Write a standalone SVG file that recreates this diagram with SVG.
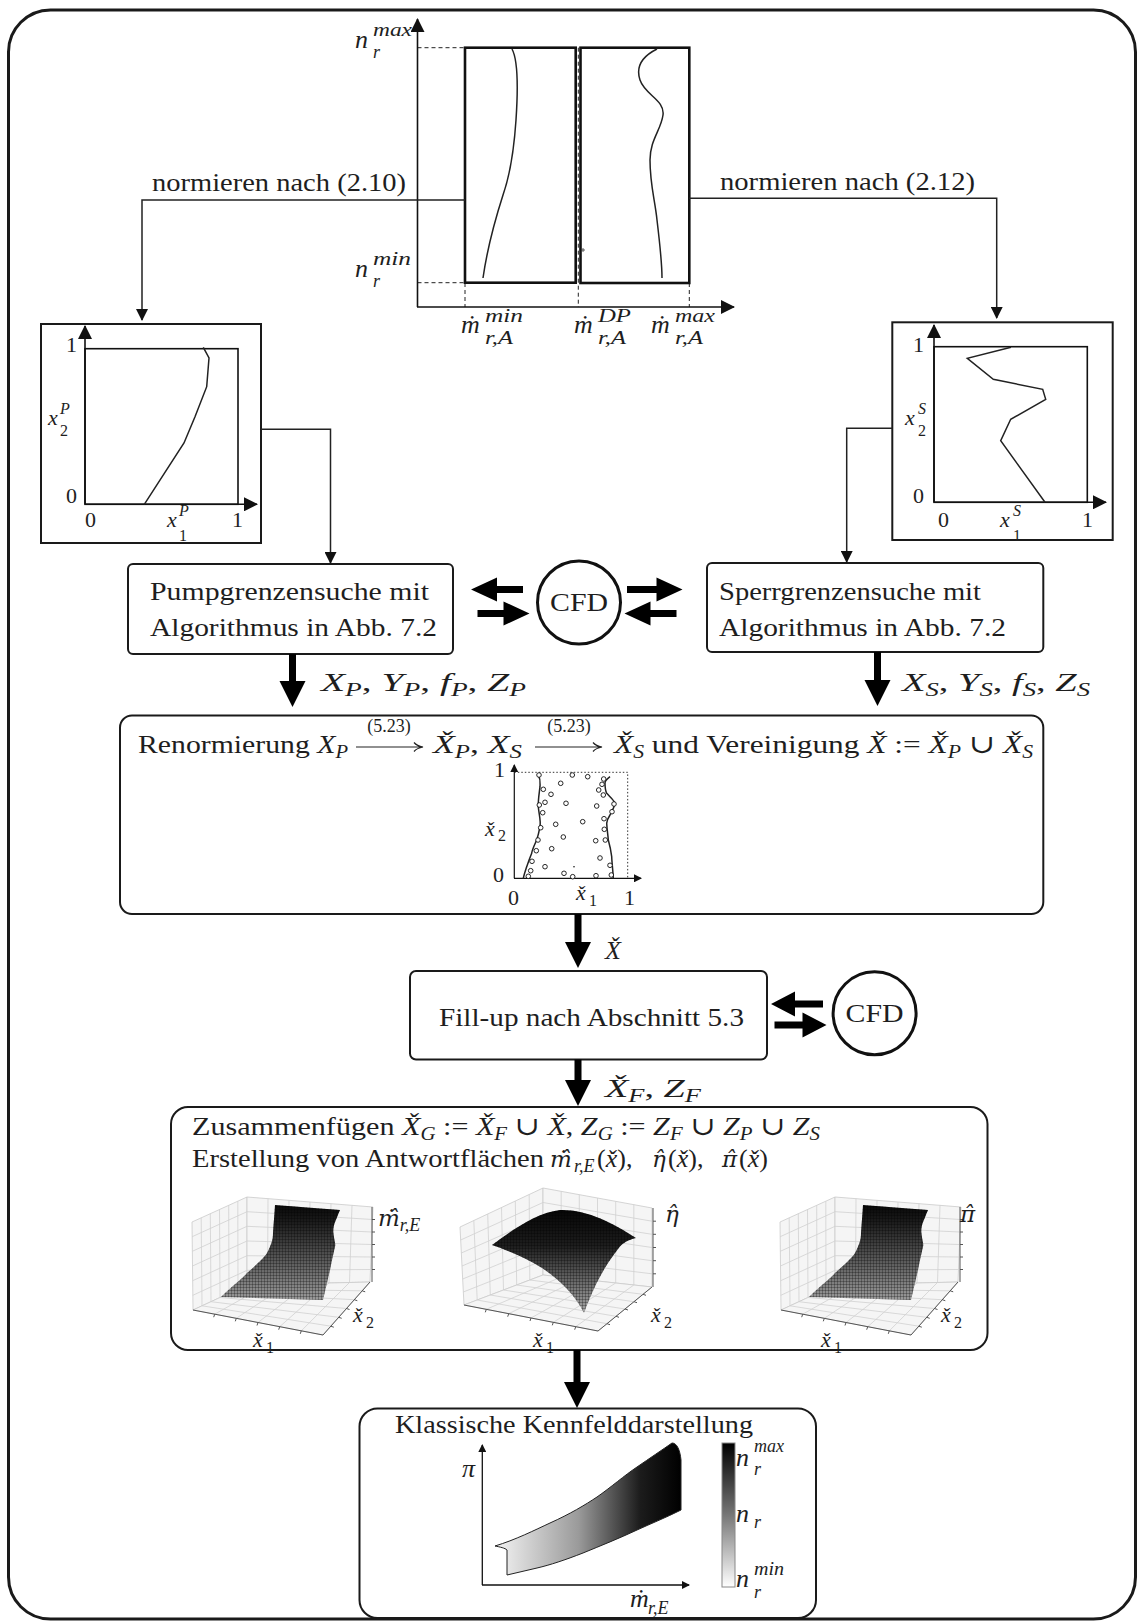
<svg xmlns="http://www.w3.org/2000/svg" width="1139" height="1624" viewBox="0 0 1139 1624">
<defs>
<style>
.t{font-family:"Liberation Serif","DejaVu Serif",serif;font-size:26px;fill:#1e1e1e}
.i{font-style:italic}
.s{font-size:18px}
.s2{font-size:16px}
.sm{font-size:22px}
.xs{font-size:16px}
.dj{font-family:"DejaVu Serif",serif;font-size:23px;font-style:italic}
.ln{fill:none;stroke:#222;stroke-width:1.5}
.ax{fill:none;stroke:#111;stroke-width:1.6}
.box{fill:#fff;stroke:#1a1a1a;stroke-width:2}
.blk{fill:#000}
.gr{fill:none;stroke:#d0d0d0;stroke-width:0.8}
.pane{fill:#f5f5f5;stroke:#cacaca;stroke-width:0.8}
.fa{fill:none;stroke:#555;stroke-width:1}
.dot{fill:#fff;stroke:#111;stroke-width:0.9}
</style>
<marker id="ah" viewBox="0 0 12 12" refX="11" refY="6" markerWidth="12" markerHeight="12" markerUnits="userSpaceOnUse" orient="auto"><path d="M0,0 L12,6 L0,12 z" fill="#111"/></marker>
<marker id="ah2" viewBox="0 0 14 14" refX="13" refY="7" markerWidth="14" markerHeight="14" markerUnits="userSpaceOnUse" orient="auto"><path d="M0,0 L14,7 L0,14 z" fill="#111"/></marker>
<marker id="ah3" viewBox="0 0 8 8" refX="7" refY="4" markerWidth="8" markerHeight="8" markerUnits="userSpaceOnUse" orient="auto"><path d="M0,0 L8,4 L0,8 z" fill="#111"/></marker>
<linearGradient id="gS" x1="0" y1="0" x2="0" y2="1"><stop offset="0" stop-color="#080808"/><stop offset="0.18" stop-color="#1c1c1c"/><stop offset="0.6" stop-color="#5c5c5c"/><stop offset="1" stop-color="#9a9a9a"/></linearGradient>
<linearGradient id="gE" x1="0" y1="0" x2="0" y2="1"><stop offset="0" stop-color="#060606"/><stop offset="0.35" stop-color="#1e1e1e"/><stop offset="0.7" stop-color="#6a6a6a"/><stop offset="1" stop-color="#a8a8a8"/></linearGradient>
<linearGradient id="gK" x1="0" y1="0" x2="1" y2="0"><stop offset="0" stop-color="#f4f4f4"/><stop offset="0.45" stop-color="#9a9a9a"/><stop offset="0.78" stop-color="#1c1c1c"/><stop offset="1" stop-color="#000"/></linearGradient>
<linearGradient id="gC" x1="0" y1="0" x2="0" y2="1"><stop offset="0" stop-color="#000"/><stop offset="0.5" stop-color="#777"/><stop offset="1" stop-color="#fff"/></linearGradient>
<pattern id="mesh" width="3" height="3" patternUnits="userSpaceOnUse"><path d="M0,0.5 H3 M0.5,0 V3" stroke="#000" stroke-opacity="0.38" stroke-width="0.7"/></pattern>
<g id="surf3d">
<polygon class="pane" points="192,1222 247,1197 247,1285 193,1310"/>
<polygon class="pane" points="247,1197 373,1207 370,1282 247,1285"/>
<polygon class="pane" points="193,1310 247,1285 370,1282 323,1335"/>
<path class="gr" d="M201.2,1217.8 L202,1305.8 M210.3,1213.7 L211,1301.7 M219.5,1209.5 L220,1297.5 M228.7,1205.3 L229,1293.3 M237.8,1201.2 L238,1289.2 M192.2,1236.7 L247,1211.7 M192.3,1251.3 L247,1226.3 M192.5,1266 L247,1241 M192.7,1280.7 L247,1255.7 M192.8,1295.3 L247,1270.3 M268,1198.7 L267.5,1284.5 M289,1200.3 L288,1284 M310,1202 L308.5,1283.5 M331,1203.7 L329,1283 M352,1205.3 L349.5,1282.5 M247,1211.7 L372.5,1219.5 M247,1226.3 L372,1232 M247,1241 L371.5,1244.5 M247,1255.7 L371,1257 M247,1270.3 L370.5,1269.5 M214.7,1314.2 L267.5,1284.5 M236.3,1318.3 L288,1284 M258,1322.5 L308.5,1283.5 M279.7,1326.7 L329,1283 M301.3,1330.8 L349.5,1282.5 M202,1305.8 L330.8,1326.2 M211,1301.7 L338.7,1317.3 M220,1297.5 L346.5,1308.5 M229,1293.3 L354.3,1299.7 M238,1289.2 L362.2,1290.8"/>
<path class="fa" d="M193,1310 L323,1335 L370,1282 M372,1282 V1207 M214.7,1314.2 l-1,3 M236.3,1318.3 l-1,3 M258,1322.5 l-1,3 M279.7,1326.7 l-1,3 M301.3,1330.8 l-1,3 M330.8,1326.2 l3,1 M338.7,1317.3 l3,1 M346.5,1308.5 l3,1 M354.3,1299.7 l3,1 M362.2,1290.8 l3,1 M372,1219.5 h3 M372,1232 h3 M372,1244.5 h3 M372,1257 h3 M372,1269.5 h3"/>
<path d="M275,1205 L340,1210 C336,1220 333,1225 333.3,1232 C334,1240 336,1243 335,1247 C333,1255 331,1265 330,1270 L323,1300 L221,1297 C233,1285 243,1278 247,1273 C256,1265 264,1258 267,1253 C271,1245 273,1240 273,1233 Z" fill="url(#gS)"/>
<path d="M275,1205 L340,1210 C336,1220 333,1225 333.3,1232 C334,1240 336,1243 335,1247 C333,1255 331,1265 330,1270 L323,1300 L221,1297 C233,1285 243,1278 247,1273 C256,1265 264,1258 267,1253 C271,1245 273,1240 273,1233 Z" fill="url(#mesh)"/>
</g>
</defs>
<rect width="1139" height="1624" fill="#fff"/>
<rect id="frame" x="8.5" y="10" width="1127" height="1609" rx="42" fill="none" stroke="#1a1a1a" stroke-width="3"/>

<g id="chart-top">
<path d="M417.5,47.7 H465 M417.5,282.7 H465 M465,283 V307 M578.3,47.7 V307 M689.3,283 V307" stroke="#222" stroke-width="1" stroke-dasharray="4,3" fill="none"/>
<line class="ax" x1="417.5" y1="307" x2="417.5" y2="19" marker-end="url(#ah2)"/>
<line class="ax" x1="417" y1="307" x2="734" y2="307" marker-end="url(#ah2)"/>
<rect x="465" y="47.7" width="110.7" height="235" fill="none" stroke="#111" stroke-width="2.6"/>
<rect x="580.5" y="47.7" width="108.8" height="235.3" fill="none" stroke="#111" stroke-width="2.6"/>
<path class="ln" d="M512,49 C518,60 518,90 516,120 C514,150 510,175 503,195 C495,220 487,250 483,278" stroke-width="1.2"/>
<path class="ln" d="M657,49 C645,55 635,65 640,80 C645,95 665,100 663,115 C661,130 650,140 650,160 C650,185 655,200 657,220 C660,245 662,262 662,278" stroke-width="1.2"/>
<path d="M581,250 h4 M583,248 v4" stroke="#333" stroke-width="0.8"/>
<text class="t i" x="355" y="48" font-size="28">n</text><text class="t i s" x="373" y="36" textLength="39" lengthAdjust="spacingAndGlyphs">max</text><text class="t i s" x="373" y="58">r</text>
<text class="t i" x="355" y="277" font-size="28">n</text><text class="t i s" x="373" y="265" textLength="38" lengthAdjust="spacingAndGlyphs">min</text><text class="t i s" x="373" y="287">r</text>
<text class="t i" x="461" y="333">ṁ</text><text class="t i s" x="485" y="322" textLength="38" lengthAdjust="spacingAndGlyphs">min</text><text class="t i s" x="485" y="344" textLength="28" lengthAdjust="spacingAndGlyphs">r,A</text>
<text class="t i" x="574" y="333">ṁ</text><text class="t i s" x="598" y="322" textLength="33" lengthAdjust="spacingAndGlyphs">DP</text><text class="t i s" x="598" y="344" textLength="28" lengthAdjust="spacingAndGlyphs">r,A</text>
<text class="t i" x="651" y="333">ṁ</text><text class="t i s" x="675" y="322" textLength="40" lengthAdjust="spacingAndGlyphs">max</text><text class="t i s" x="675" y="344" textLength="28" lengthAdjust="spacingAndGlyphs">r,A</text>
</g>

<g id="box-pnorm">
<rect class="box" x="41" y="324" width="220" height="219"/>
<rect x="85" y="348.7" width="153" height="155.6" fill="none" stroke="#111" stroke-width="1.6"/>
<line class="ax" x1="85" y1="504.3" x2="85" y2="326" marker-end="url(#ah2)"/>
<line class="ax" x1="85" y1="504.3" x2="257" y2="504.3" marker-end="url(#ah2)"/>
<polyline class="ln" points="203.3,347.3 209,358 206.7,386.7 195,416.7 184,443 144.3,504.3" stroke-width="1.2"/>
<text class="t sm" x="66" y="352">1</text><text class="t sm" x="66" y="503">0</text>
<text class="t sm" x="85" y="527">0</text><text class="t sm" x="232" y="527">1</text>
<text class="t sm i" x="167" y="527">x</text><text class="t xs i" x="179" y="516">P</text><text class="t xs" x="179" y="541">1</text>
<text class="t sm i" x="48" y="425">x</text><text class="t xs i" x="60" y="414">P</text><text class="t xs" x="60" y="436">2</text>
</g>

<g id="box-snorm">
<rect class="box" x="892.3" y="322.3" width="220.4" height="217.7"/>
<rect x="934" y="346.7" width="153.3" height="155.6" fill="none" stroke="#111" stroke-width="1.6"/>
<line class="ax" x1="934" y1="502.3" x2="934" y2="325" marker-end="url(#ah2)"/>
<line class="ax" x1="934" y1="502.3" x2="1106" y2="502.3" marker-end="url(#ah2)"/>
<polyline class="ln" points="1011,347.3 967.3,358.3 993.3,379.3 1042.7,389.3 1045.7,399.3 1010.7,419.3 1000.7,440.7 1045,502.3" stroke-width="1.2"/>
<text class="t sm" x="913" y="352">1</text><text class="t sm" x="913" y="503">0</text>
<text class="t sm" x="938" y="527">0</text><text class="t sm" x="1082" y="527">1</text>
<text class="t sm i" x="1000" y="527">x</text><text class="t xs i" x="1013" y="516">S</text><text class="t xs" x="1013" y="541">1</text>
<text class="t sm i" x="905" y="425">x</text><text class="t xs i" x="918" y="414">S</text><text class="t xs" x="918" y="436">2</text>
</g>

<g id="node-pump">
<rect class="box" x="128" y="564" width="325" height="90" rx="5"/>
<text class="t" x="150" y="600" textLength="279" lengthAdjust="spacingAndGlyphs">Pumpgrenzensuche mit</text>
<text class="t" x="150" y="636" textLength="287" lengthAdjust="spacingAndGlyphs">Algorithmus in Abb. 7.2</text>
</g>

<g id="node-sperr">
<rect class="box" x="707" y="563" width="336.3" height="89" rx="5"/>
<text class="t" x="719" y="600" textLength="262" lengthAdjust="spacingAndGlyphs">Sperrgrenzensuche mit</text>
<text class="t" x="719" y="636" textLength="287" lengthAdjust="spacingAndGlyphs">Algorithmus in Abb. 7.2</text>
</g>

<g id="node-cfd1">
<circle cx="579" cy="602.5" r="41.5" fill="#fff" stroke="#111" stroke-width="3"/>
<text class="t" x="550" y="611" textLength="58" lengthAdjust="spacingAndGlyphs">CFD</text>
</g>

<g id="node-renorm">
<rect class="box" x="120" y="715.5" width="923.3" height="198.5" rx="12"/>
<text class="t" x="138" y="753" textLength="210" lengthAdjust="spacingAndGlyphs">Renormierung <tspan class="i">X</tspan><tspan class="i s" dy="5">P</tspan></text>
<path d="M356,747 H422 M414,742.5 Q417,746 423,747 Q417,748 414,751.5" fill="none" stroke="#222" stroke-width="1.2"/>
<text class="t s" x="389" y="732" text-anchor="middle">(5.23)</text>
<text class="t" x="433" y="753" textLength="89" lengthAdjust="spacingAndGlyphs"><tspan class="i">X̌</tspan><tspan class="i s" dy="5">P</tspan><tspan dy="-5">, </tspan><tspan class="i">X</tspan><tspan class="i s" dy="5">S</tspan></text>
<path d="M535,747 H601 M593,742.5 Q596,746 602,747 Q596,748 593,751.5" fill="none" stroke="#222" stroke-width="1.2"/>
<text class="t s" x="569" y="732" text-anchor="middle">(5.23)</text>
<text class="t" x="614" y="753" textLength="419" lengthAdjust="spacingAndGlyphs"><tspan class="i">X̌</tspan><tspan class="i s" dy="5">S</tspan><tspan dy="-5"> und Vereinigung </tspan><tspan class="i">X̌</tspan> := <tspan class="i">X̌</tspan><tspan class="i s" dy="5">P</tspan><tspan dy="-5"> ∪ </tspan><tspan class="i">X̌</tspan><tspan class="i s" dy="5">S</tspan></text>
<g id="scatter">
<path d="M514.3,772.3 H627.7 V878.3" fill="none" stroke="#333" stroke-width="1" stroke-dasharray="1.5,2"/>
<line x1="514.3" y1="878.3" x2="514.3" y2="765" stroke="#111" stroke-width="1.2" marker-end="url(#ah3)"/>
<line x1="514" y1="878.3" x2="641" y2="878.3" stroke="#111" stroke-width="1.2" marker-end="url(#ah3)"/>
<path class="ln" stroke-width="1.1" d="M538.3,775 C541,780 540,784 540,786.7 C539,795 538,800 538.3,806.7 C539,815 541,820 540,826.7 C539,832 538,836 536.7,840 C534,846 532,850 531.7,853.3 C529,860 528,863 526.7,866.7 C525,872 524,875 523.3,878.3"/>
<path class="ln" stroke-width="1.1" d="M610,776.7 C607,779 605,781 605,783 C605,787 605,790 606.7,793.3 C610,797 614,800 615,803.3 C614,808 612,811 610,815 C608,818 607,820 606.7,823.3 C607,830 608,835 608.3,840 C610,846 611,851 611.7,856.7 C612,864 613,871 613.3,878.3"/>
<g class="dot">
<circle cx="539" cy="775" r="2.3"/><circle cx="572.3" cy="775" r="2.3"/><circle cx="587.7" cy="776.7" r="2.3"/><circle cx="603.7" cy="779" r="2.3"/><circle cx="560.7" cy="783.3" r="2.3"/><circle cx="602" cy="784.3" r="2.3"/><circle cx="543.3" cy="789.3" r="2.3"/><circle cx="598.7" cy="790" r="2.3"/><circle cx="551" cy="794.3" r="2.3"/><circle cx="603.3" cy="795" r="2.3"/><circle cx="545" cy="802.3" r="2.3"/><circle cx="566" cy="803.3" r="2.3"/><circle cx="539.3" cy="805" r="2.3"/><circle cx="596.7" cy="806" r="2.3"/><circle cx="614" cy="804" r="2.3"/><circle cx="542.7" cy="812.7" r="2.3"/><circle cx="612" cy="811.7" r="2.3"/><circle cx="604" cy="818.7" r="2.3"/><circle cx="582.7" cy="821.7" r="2.3"/><circle cx="540.7" cy="827.7" r="2.3"/><circle cx="555.7" cy="824.3" r="2.3"/><circle cx="604.3" cy="829.3" r="2.3"/><circle cx="563.3" cy="837" r="2.3"/><circle cx="538" cy="840" r="2.3"/><circle cx="595.7" cy="840.7" r="2.3"/><circle cx="605.3" cy="840" r="2.3"/><circle cx="551.7" cy="848.7" r="2.3"/><circle cx="536.3" cy="850.7" r="2.3"/><circle cx="600" cy="858" r="2.3"/><circle cx="532" cy="861.3" r="2.3"/><circle cx="545" cy="866.7" r="2.3"/><circle cx="610" cy="865.3" r="2.3"/><circle cx="530.7" cy="870.7" r="2.3"/><circle cx="564" cy="873.3" r="2.3"/><circle cx="572.7" cy="876.7" r="2.3"/><circle cx="596" cy="875.7" r="2.3"/><circle cx="611.3" cy="875" r="2.3"/><circle cx="528.3" cy="876.3" r="2.3"/>
</g>
<circle cx="574" cy="866.7" r="0.8" fill="#111"/>
<text class="t sm" x="494" y="777">1</text><text class="t sm" x="493" y="882">0</text>
<text class="t sm" x="508" y="905">0</text><text class="t sm" x="624" y="905">1</text>
<text class="t sm i" x="576" y="900">x̌</text><text class="t xs" x="589" y="906">1</text>
<text class="t sm i" x="485" y="836">x̌</text><text class="t xs" x="498" y="841">2</text>
</g>
</g>

<g id="node-fillup">
<rect class="box" x="410" y="971" width="357" height="88.5" rx="6"/>
<text class="t" x="439" y="1026" textLength="305" lengthAdjust="spacingAndGlyphs">Fill-up nach Abschnitt 5.3</text>
</g>

<g id="node-cfd2">
<circle cx="874.6" cy="1013.3" r="41.5" fill="#fff" stroke="#111" stroke-width="3"/>
<text class="t" x="845.6" y="1022" textLength="58" lengthAdjust="spacingAndGlyphs">CFD</text>
</g>

<g id="node-zusammen">
<rect class="box" x="171" y="1107" width="816.5" height="243" rx="17"/>
<text class="t" x="192" y="1135" textLength="628" lengthAdjust="spacingAndGlyphs">Zusammenfügen <tspan class="i">X̌</tspan><tspan class="s i" dy="5">G</tspan><tspan dy="-5"> := </tspan><tspan class="i">X̌</tspan><tspan class="s i" dy="5">F</tspan><tspan dy="-5"> ∪ </tspan><tspan class="i">X̌</tspan>, <tspan class="i">Z</tspan><tspan class="s i" dy="5">G</tspan><tspan dy="-5"> := </tspan><tspan class="i">Z</tspan><tspan class="s i" dy="5">F</tspan><tspan dy="-5"> ∪ </tspan><tspan class="i">Z</tspan><tspan class="s i" dy="5">P</tspan><tspan dy="-5"> ∪ </tspan><tspan class="i">Z</tspan><tspan class="s i" dy="5">S</tspan></text>
<text class="t" x="192" y="1167" textLength="352" lengthAdjust="spacingAndGlyphs">Erstellung von Antwortflächen</text>
<text class="t" y="1167"><tspan x="550" class="dj">ṁ̂</tspan><tspan x="574" dy="5" class="i s">r,E</tspan><tspan x="597" dy="-5">(</tspan><tspan class="i">x̌</tspan><tspan>),</tspan><tspan x="652" class="dj">η̂</tspan><tspan x="668">(</tspan><tspan class="i">x̌</tspan><tspan>),</tspan><tspan x="722" class="dj">π̂</tspan><tspan x="739">(</tspan><tspan class="i">x̌</tspan><tspan>)</tspan></text>
<g id="plot-mr">
<use href="#surf3d"/>
<text class="t" x="378" y="1226"><tspan class="dj">ṁ̂</tspan><tspan class="i s" dy="5">r,E</tspan></text>
<text class="t sm i" x="353" y="1322">x̌</text><text class="t xs" x="366" y="1328">2</text>
<text class="t sm i" x="253" y="1347">x̌</text><text class="t xs" x="266" y="1353">1</text>
</g>
<g id="plot-eta">
<polygon class="pane" points="460,1227 543,1188 543,1275 464,1305"/>
<polygon class="pane" points="543,1188 652,1208 652,1287 543,1275"/>
<polygon class="pane" points="464,1305 543,1275 652,1287 598,1331"/>
<path class="gr" d="M473.8,1220.5 L477.2,1300 M487.7,1214 L490.3,1295 M501.5,1207.5 L503.5,1290 M515.3,1201 L516.7,1285 M529.2,1194.5 L529.8,1280 M460.7,1240 L543,1202.5 M461.3,1253 L543,1217 M462,1266 L543,1231.5 M462.7,1279 L543,1246 M463.3,1292 L543,1260.5 M561.2,1191.3 L561.2,1277 M579.3,1194.7 L579.3,1279 M597.5,1198 L597.5,1281 M615.7,1201.3 L615.7,1283 M633.8,1204.7 L633.8,1285 M543,1202.5 L652,1221.2 M543,1217 L652,1234.3 M543,1231.5 L652,1247.5 M543,1246 L652,1260.7 M543,1260.5 L652,1273.8 M486.3,1309.3 L561.2,1277 M508.7,1313.7 L579.3,1279 M531,1318 L597.5,1281 M553.3,1322.3 L615.7,1283 M575.7,1326.7 L633.8,1285 M477.2,1300 L607,1323.7 M490.3,1295 L616,1316.3 M503.5,1290 L625,1309 M516.7,1285 L634,1301.7 M529.8,1280 L643,1294.3"/>
<path class="fa" d="M464,1305 L598,1331 L652,1287 M653,1287 V1208 M486.3,1309.3 l-1,3 M508.7,1313.7 l-1,3 M531,1318 l-1,3 M553.3,1322.3 l-1,3 M575.7,1326.7 l-1,3 M607,1323.7 l3,1 M616,1316.3 l3,1 M625,1309 l3,1 M634,1301.7 l3,1 M643,1294.3 l3,1 M653,1221.2 h3 M653,1234.3 h3 M653,1247.5 h3 M653,1260.7 h3 M653,1273.8 h3"/>
<path d="M492,1245 C510,1232 535,1213 560,1210 C585,1209 612,1222 636,1238 C628,1240 622,1243 618,1249 C610,1260 598,1275 584,1313 C575,1295 560,1280 542,1268 C525,1257 506,1250 492,1245 Z" fill="url(#gE)"/>
<path d="M492,1245 C510,1232 535,1213 560,1210 C585,1209 612,1222 636,1238 C628,1240 622,1243 618,1249 C610,1260 598,1275 584,1313 C575,1295 560,1280 542,1268 C525,1257 506,1250 492,1245 Z" fill="url(#mesh)"/>
<text class="t dj" x="665" y="1222">η̂</text>
<text class="t sm i" x="651" y="1322">x̌</text><text class="t xs" x="664" y="1328">2</text>
<text class="t sm i" x="533" y="1347">x̌</text><text class="t xs" x="546" y="1353">1</text>
</g>
<g id="plot-pi">
<use href="#surf3d" x="588"/>
<text class="t dj" x="960" y="1222">π̂</text>
<text class="t sm i" x="941" y="1322">x̌</text><text class="t xs" x="954" y="1328">2</text>
<text class="t sm i" x="821" y="1347">x̌</text><text class="t xs" x="834" y="1353">1</text>
</g>
</g>

<g id="node-kennfeld">
<rect class="box" x="359.5" y="1408.5" width="456.5" height="209.5" rx="18"/>
<text class="t" x="395" y="1433" textLength="358" lengthAdjust="spacingAndGlyphs">Klassische Kennfelddarstellung</text>
<line x1="482.3" y1="1585" x2="482.3" y2="1445" stroke="#111" stroke-width="1.3" marker-end="url(#ah3)"/>
<line x1="482" y1="1585" x2="689" y2="1585" stroke="#111" stroke-width="1.3" marker-end="url(#ah3)"/>
<path d="M495,1546 C515,1540 535,1530 550,1523 C570,1514 585,1505 597,1497 C610,1488 625,1475 637,1467 C650,1458 662,1450 672,1443 C677,1443 680,1450 681,1460 L681,1510 C665,1518 650,1524 637,1530 C620,1538 600,1546 583,1553 C565,1560 550,1565 537,1568 L507,1575 L507,1550 C505,1548 500,1547 495,1546 Z" fill="url(#gK)" stroke="#222" stroke-width="1"/>
<rect x="722" y="1443" width="13" height="144" fill="url(#gC)" stroke="#888" stroke-width="1"/>
<text class="t i" x="462" y="1477">π</text>
<text class="t i" x="630" y="1607">ṁ</text><text class="t i s" x="648" y="1614">r,E</text>
<text class="t i" x="736" y="1466" font-size="28">n</text><text class="t i s" x="754" y="1452" textLength="30" lengthAdjust="spacingAndGlyphs">max</text><text class="t i s" x="754" y="1475">r</text>
<text class="t i" x="736" y="1522" font-size="28">n</text><text class="t i s" x="754" y="1528">r</text>
<text class="t i" x="736" y="1587" font-size="28">n</text><text class="t i s" x="754" y="1575" textLength="30" lengthAdjust="spacingAndGlyphs">min</text><text class="t i s" x="754" y="1598">r</text>
</g>

<g id="connectors">
<path class="ln" d="M465,200 H142 V320" marker-end="url(#ah)"/>
<text class="t" x="152" y="191" textLength="254" lengthAdjust="spacingAndGlyphs">normieren nach (2.10)</text>
<path class="ln" d="M689.3,198.3 H996.7 V318" marker-end="url(#ah)"/>
<text class="t" x="720" y="190" textLength="255" lengthAdjust="spacingAndGlyphs">normieren nach (2.12)</text>
<path class="ln" d="M261,429.3 H330.5 V563" marker-end="url(#ah)"/>
<path class="ln" d="M892.3,428.3 H846.7 V562" marker-end="url(#ah)"/>
<path class="blk" d="M471,589.5 L497,577.5 V586 H523 V593 H497 V601.5 Z"/>
<path class="blk" d="M529.5,613.5 L503.5,601.5 V610 H477.5 V617 H503.5 V625.5 Z"/>
<path class="blk" d="M682.5,589.5 L656.5,577.5 V586 H627 V593 H656.5 V601.5 Z"/>
<path class="blk" d="M624.5,613.5 L650.5,601.5 V610 H676.5 V617 H650.5 V625.5 Z"/>
<path class="blk" d="M771,1004 L795,991.5 V1000.5 H823 V1007.5 H795 V1016.5 Z"/>
<path class="blk" d="M826.5,1025 L802.5,1012.5 V1021.5 H774.5 V1028.5 H802.5 V1037.5 Z"/>
<path class="blk" d="M289,654 V681 H279.5 L292.5,707 L305.5,681 H296 V654 Z"/>
<text class="t" x="321" y="691" textLength="205" lengthAdjust="spacingAndGlyphs"><tspan class="i">X</tspan><tspan class="i s" dy="5">P</tspan><tspan dy="-5">, </tspan><tspan class="i">Y</tspan><tspan class="i s" dy="5">P</tspan><tspan dy="-5">,  </tspan><tspan class="i">f</tspan><tspan class="i s" dy="5">P</tspan><tspan dy="-5">, </tspan><tspan class="i">Z</tspan><tspan class="i s" dy="5">P</tspan></text>
<path class="blk" d="M874,652 V680 H864.5 L877.5,706 L890.5,680 H881 V652 Z"/>
<text class="t" x="902" y="691" textLength="188" lengthAdjust="spacingAndGlyphs"><tspan class="i">X</tspan><tspan class="i s" dy="5">S</tspan><tspan dy="-5">, </tspan><tspan class="i">Y</tspan><tspan class="i s" dy="5">S</tspan><tspan dy="-5">, </tspan><tspan class="i">f</tspan><tspan class="i s" dy="5">S</tspan><tspan dy="-5">, </tspan><tspan class="i">Z</tspan><tspan class="i s" dy="5">S</tspan></text>
<path class="blk" d="M574.5,914 V942 H565 L578,968 L591,942 H581.5 V914 Z"/>
<text class="t i" x="605" y="959">X̌</text>
<path class="blk" d="M574.5,1059.5 V1080 H565 L578,1106 L591,1080 H581.5 V1059.5 Z"/>
<text class="t" x="605" y="1097" textLength="96" lengthAdjust="spacingAndGlyphs"><tspan class="i">X̌</tspan><tspan class="i s" dy="5">F</tspan><tspan dy="-5">, </tspan><tspan class="i">Z</tspan><tspan class="i s" dy="5">F</tspan></text>
<path class="blk" d="M573.5,1350 V1382 H564 L577,1408 L590,1382 H580.5 V1350 Z"/>
</g>
</svg>
